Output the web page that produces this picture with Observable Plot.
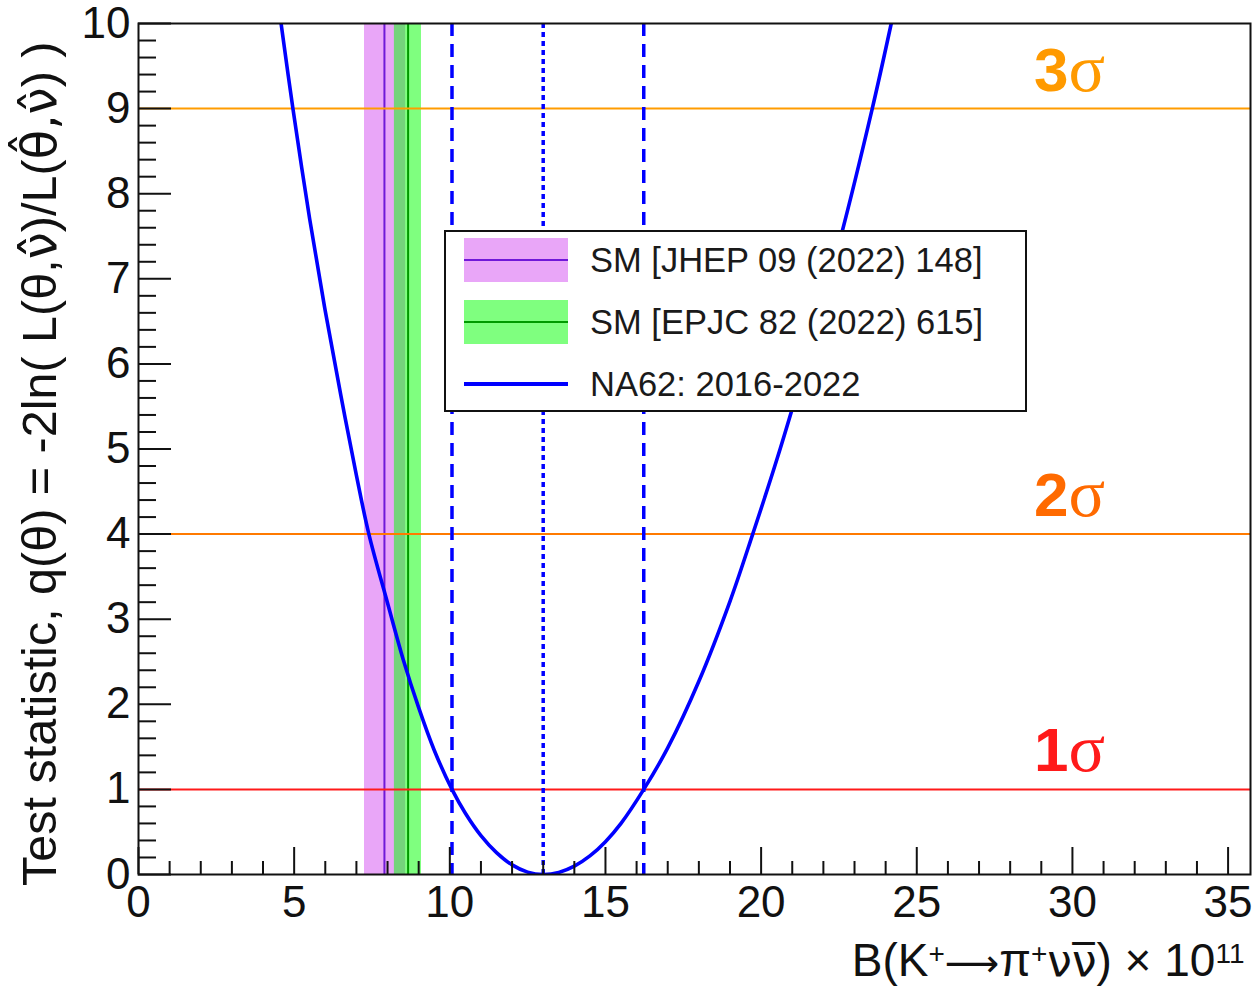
<!DOCTYPE html>
<html><head><meta charset="utf-8">
<script src="https://cdn.jsdelivr.net/npm/d3@7"></script>
<script src="https://cdn.jsdelivr.net/npm/@observablehq/plot@0.6"></script>
<style>
body{margin:0;background:#fff;}
#wrap{position:relative;width:1255px;height:988px;font-family:"Liberation Sans",Arial,sans-serif;}
#wrap svg{overflow:visible;}
#legend{position:absolute;left:444px;top:230px;width:579px;height:178px;border:2px solid #111;background:#fff;}
.row{position:absolute;left:0;height:44px;}
.sw{position:absolute;left:18px;width:104px;}
.lab{position:absolute;left:144px;font-size:34.5px;color:#1a1a1a;white-space:nowrap;line-height:1;}
</style></head><body><div id="wrap"></div>
<script>
// ---- data ----
const curveX = [4.58, 4.96, 5.5, 6.0, 6.5, 7.0, 7.4, 8.0, 8.5, 9.0, 9.5, 10.07, 10.5, 11.0, 11.5, 12.0, 12.5, 13.0,
                13.5, 14.0, 14.5, 15.0, 15.5, 16.23, 17.0, 18.0, 19.0, 19.73, 20.5, 21.5, 22.5, 23.57, 24.18];
const curveQ = [10, 9, 7.7, 6.62, 5.63, 4.69, 4.0, 3.19, 2.53, 1.96, 1.46, 1.0, 0.72, 0.457, 0.257, 0.113, 0.028, 0,
                0.024, 0.098, 0.218, 0.386, 0.601, 1.0, 1.487, 2.27, 3.21, 4.0, 4.87, 6.1, 7.41, 9.0, 10.0];
const bandNames = ["SM [JHEP 09 (2022) 148]", "SM [EPJC 82 (2022) 615]"];
const bandCenter = [7.90, 8.66];
const bandLow = [7.26, 8.22];
const bandHigh = [8.58, 9.09];
const measName = "NA62: 2016-2022";
const measCentral = [13.0];
const measInterval = [10.07, 16.23];
const sigmaLevels = [1, 4, 9];
const sigmaNumbers = ["1", "2", "3"];
const xMajorTicks = [0, 5, 10, 15, 20, 25, 30, 35];
const yMajorTicks = [0, 1, 2, 3, 4, 5, 6, 7, 8, 9, 10];
const xTitle = "B(K+→π+νν\u0305) × 1011";
const yTitle = "Test statistic, q(θ) = -2ln( L(θ,ν\u0302\u0302)/L(θ\u0302,ν\u0302) )";

// ---- styles ----
const W = 1255, H = 988, mL = 138, mT = 23, mR = 5, mB = 114;
const xMax = 35.72, yMax = 10;
const font = "Liberation Sans, Arial, sans-serif";
const bandFill = ["#e9a6f8", "rgb(0,255,0)"];
const bandOpacity = [1, 0.5];
const bandLine = ["#7018d8", "#009a00"];
const levelColor = ["#ff1a1a", "#ff7a00", "#ff9c00"];
const labelColor = ["#ff1a1a", "#ff6a00", "#ff9a00"];

const curve = curveX.map((x, i) => ({x, q: curveQ[i]}));
const bands = bandNames.map((name, i) => ({name, c: bandCenter[i], lo: bandLow[i], hi: bandHigh[i], fill: bandFill[i], op: bandOpacity[i], line: bandLine[i]}));
const levels = sigmaLevels.map((q, i) => ({q, n: sigmaNumbers[i], lc: levelColor[i], tc: labelColor[i]}));

const pxX = (W - mL - mR) / xMax, pxY = (H - mT - mB) / yMax;
const xMinor = d3.range(0, 36, 1).filter(v => v % 5 !== 0);
const yMinor = d3.range(0, 50, 1).map(v => v / 5).filter(v => Math.abs(v - Math.round(v)) > 1e-6);

const marks = [];
bands.forEach(b => {
  marks.push(Plot.rect([b], {x1: "lo", x2: "hi", fill: b.fill, fillOpacity: b.op}));
});
bands.forEach(b => {
  marks.push(Plot.ruleX([b.c], {stroke: b.line, strokeWidth: 2}));
});
levels.forEach(l => marks.push(Plot.ruleY([l.q], {stroke: l.lc, strokeWidth: 2})));
marks.push(Plot.ruleX(measInterval, {stroke: "#0000ff", strokeWidth: 3.5, strokeDasharray: "13,8"}));
marks.push(Plot.ruleX(measCentral, {stroke: "#0000ff", strokeWidth: 3.5, strokeDasharray: "5,4"}));
marks.push(Plot.line(curve, {x: "x", y: "q", stroke: "#0000ff", strokeWidth: 3.6, curve: "catmull-rom", clip: true}));
// ticks (inside)
marks.push(Plot.ruleX(xMajorTicks, {y1: 0, y2: 27 / pxY, stroke: "#111", strokeWidth: 2}));
marks.push(Plot.ruleX(xMinor, {y1: 0, y2: 13 / pxY, stroke: "#111", strokeWidth: 2}));
marks.push(Plot.ruleY(yMajorTicks, {x1: 0, x2: 33 / pxX, stroke: "#111", strokeWidth: 2}));
marks.push(Plot.ruleY(yMinor, {x1: 0, x2: 18 / pxX, stroke: "#111", strokeWidth: 2}));
marks.push(Plot.frame({stroke: "#111", strokeWidth: 2}));
// axis labels
marks.push(Plot.axisX({ticks: xMajorTicks, tickSize: 0, tickPadding: 11, fontSize: 44, fontFamily: font, fill: "#111", label: null, tickFormat: d => String(d)}));
marks.push(Plot.axisY({ticks: yMajorTicks, tickSize: 0, tickPadding: 8, fontSize: 44, fontFamily: font, fill: "#111", label: null, tickFormat: d => String(d)}));
// sigma labels
marks.push(Plot.text(levels, {y: "q", text: "n", frameAnchor: "right", dx: -182, dy: -18, textAnchor: "end", lineAnchor: "bottom", fill: d => d.tc, fontSize: 62, fontWeight: "bold", fontFamily: font}));
marks.push(Plot.text(levels, {y: "q", text: d => "σ", frameAnchor: "right", dx: -182, dy: -18, textAnchor: "start", lineAnchor: "bottom", fill: d => d.tc, fontSize: 68, fontFamily: "Liberation Serif, serif"}));
// titles
marks.push(Plot.text([xTitle], {frameAnchor: "bottom-right", dx: -6, dy: 101, textAnchor: "end", lineAnchor: "bottom", fontSize: 46, fontFamily: font, fill: "#111"}));
marks.push(Plot.text([yTitle], {frameAnchor: "top-left", rotate: -90, dx: -98, dy: 18, textAnchor: "end", lineAnchor: "middle", fontSize: 48.5, fontFamily: font, fill: "#111"}));

const chart = Plot.plot({
  width: W, height: H, marginLeft: mL, marginTop: mT, marginRight: mR, marginBottom: mB,
  x: {domain: [0, xMax], axis: null},
  y: {domain: [0, yMax], axis: null},
  style: {background: "#fff", fontFamily: font, overflow: "visible"},
  marks
});
document.getElementById("wrap").appendChild(chart);

function rebuild(content, parts) {
  d3.select(chart).selectAll("text").filter(function(){ return this.textContent === content; }).each(function(){
    const t = d3.select(this); t.text("");
    parts.forEach(p => {
      const ts = t.append("tspan").text(p.s);
      if (p.sup) ts.attr("baseline-shift", "48%").attr("font-size", "28px");
      if (p.ff) ts.attr("font-family", p.ff);
      if (p.fs) ts.attr("font-size", p.fs);
    });
  });
}
rebuild(xTitle, [
  {s: "B(K"}, {s: "+", sup: 1}, {s: "\u27F6", ff: "DejaVu Sans", fs: "38px"}, {s: "π"}, {s: "+", sup: 1},
  {s: "νν\u0305", ff: "DejaVu Sans", fs: "44px"}, {s: ") × 10"}, {s: "11", sup: 1}
]);
rebuild(yTitle, [
  {s: "Test statistic, q(θ) = -2ln( L(θ,"}, {s: "ν\u0302\u0302", ff: "DejaVu Sans"}, {s: ")/L("},
  {s: "θ\u0302,ν\u0302", ff: "DejaVu Sans"}, {s: ") )"}
]);

// legend
const lg = document.createElement("div"); lg.id = "legend";
const rows = [
  {top: 6, h: 44, fill: bandFill[0], op: bandOpacity[0], line: bandLine[0], lw: 2, text: bandNames[0]},
  {top: 68, h: 44, fill: bandFill[1], op: bandOpacity[1], line: bandLine[1], lw: 2, text: bandNames[1]},
  {top: 130, h: 44, fill: null, line: "#0000ff", lw: 4, text: measName}
];
rows.forEach(r => {
  const row = document.createElement("div"); row.className = "row"; row.style.top = r.top + "px"; row.style.width = "100%";
  const sw = document.createElement("div"); sw.className = "sw"; sw.style.top = "0px"; sw.style.height = r.h + "px";
  if (r.fill) { sw.style.background = r.fill; sw.style.opacity = r.op; }
  row.appendChild(sw);
  const ln = document.createElement("div"); ln.style.position = "absolute"; ln.style.left = "18px"; ln.style.width = "104px";
  ln.style.top = (r.h / 2 - r.lw / 2) + "px"; ln.style.height = r.lw + "px"; ln.style.background = r.line;
  row.appendChild(ln);
  const lab = document.createElement("div"); lab.className = "lab"; lab.textContent = r.text; lab.style.top = (r.h / 2 - 17) + "px";
  row.appendChild(lab);
  lg.appendChild(row);
});
document.getElementById("wrap").appendChild(lg);
</script>
</body></html>
